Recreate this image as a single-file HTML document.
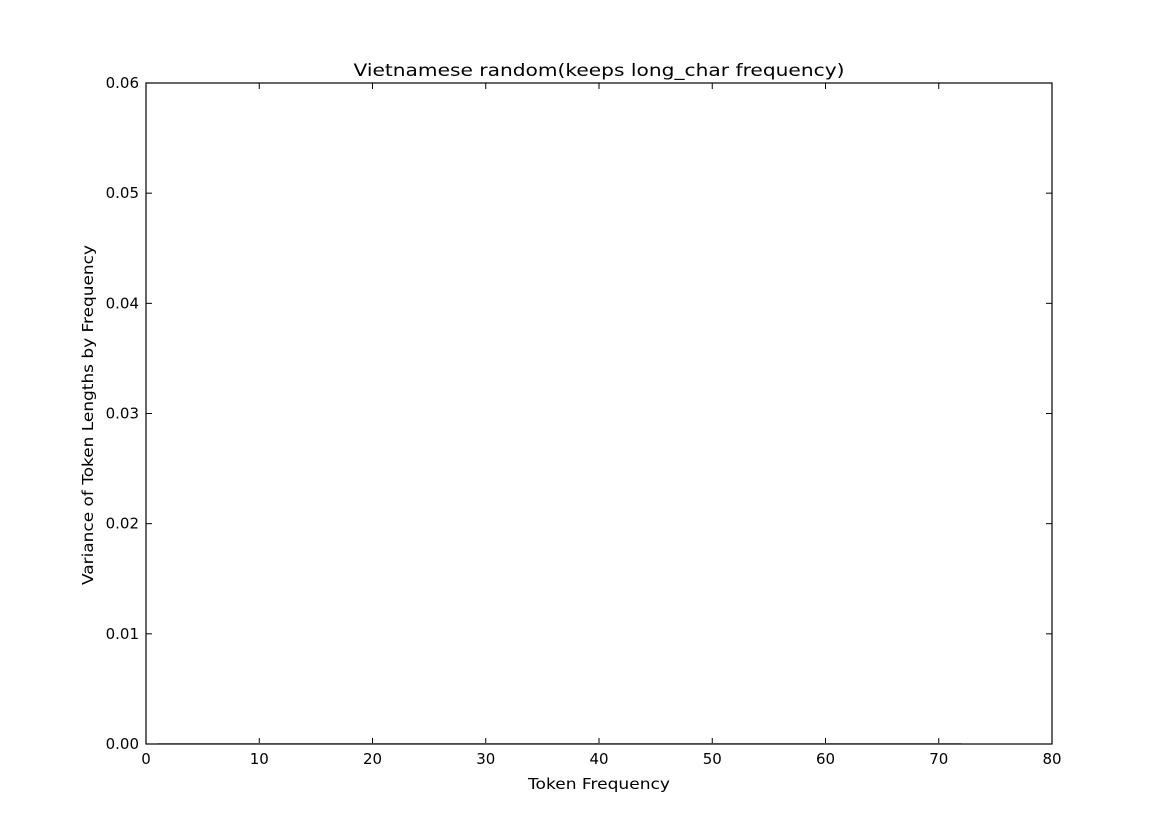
<!DOCTYPE html>
<html><head><meta charset="utf-8"><style>
body{margin:0;background:#fff;}
svg text{font-family:"DejaVu Sans","Liberation Sans",sans-serif;}
</style></head><body>
<svg width="1169" height="827" xmlns="http://www.w3.org/2000/svg">
<rect width="1169" height="827" fill="#fff"/>
<text x="599" y="76" font-size="17" text-anchor="middle" textLength="491" lengthAdjust="spacingAndGlyphs">Vietnamese random(keeps long_char frequency)</text>
<g id="ticks"></g>
<g id="series"></g>
<rect x="146" y="83" width="906" height="661" fill="none" stroke="#000" stroke-width="1.2"/>
<text x="599" y="789" font-size="15" text-anchor="middle" textLength="142" lengthAdjust="spacingAndGlyphs">Token Frequency</text>
<text transform="translate(93,415) rotate(-90)" font-size="15" text-anchor="middle" textLength="340" lengthAdjust="spacingAndGlyphs">Variance of Token Lengths by Frequency</text>
</svg>
<script>
const xTicks=[0,10,20,30,40,50,60,70,80];
const yTicks=[0,0.01,0.02,0.03,0.04,0.05,0.06];
const yTickLabels=["0.00","0.01","0.02","0.03","0.04","0.05","0.06"];
const xs=[1,2,3,4,5,6,7,8,9,10,11,12,13,14,15,16,17,18,19,20,21,22,23,24,25,26,27,28,29,30,31,32,33,34,35,36,37,38,39,40,41,42,43,44,45,46,47,48,49,50,51,52,53,56,57,58,59,61,62,71,72];
const vals=xs.map(()=>0);
const X=v=>146+v*(906/80), Y=v=>744-v*(661/0.06);
const NS="http://www.w3.org/2000/svg";
const tg=document.getElementById('ticks');
function mk(tag,at,par){const e=document.createElementNS(NS,tag);for(const k in at)e.setAttribute(k,at[k]);par.appendChild(e);return e;}
xTicks.forEach(t=>{
 const x=X(t);
 const a=mk('line',{x1:x,x2:x,y1:744,y2:738,stroke:'#000'},tg);
 
 
 const b=mk('line',{x1:x,x2:x,y1:83,y2:89,stroke:'#000'},tg);
 
 
 const l=mk('text',{x:x,y:764,'font-size':15,'text-anchor':'middle'},tg);l.textContent=t;
 
 
});
yTicks.forEach((t,i)=>{
 const y=Y(t);
 const a=mk('line',{x1:146,x2:152,y1:y,y2:y,stroke:'#000'},tg);
 
 
 const b=mk('line',{x1:1046,x2:1052,y1:y,y2:y,stroke:'#000'},tg);
 
 
 const l=mk('text',{x:139,y:y+5,'font-size':15,'text-anchor':'end'},tg);l.textContent=yTickLabels[i];
 
 
});
const p=mk('polyline',{points:xs.map((x,i)=>X(x)+','+(Y(vals[i])-0.5)).join(' '),fill:'none',stroke:'#bbb','stroke-width':1},document.getElementById('series'));


</script>
</body></html>
